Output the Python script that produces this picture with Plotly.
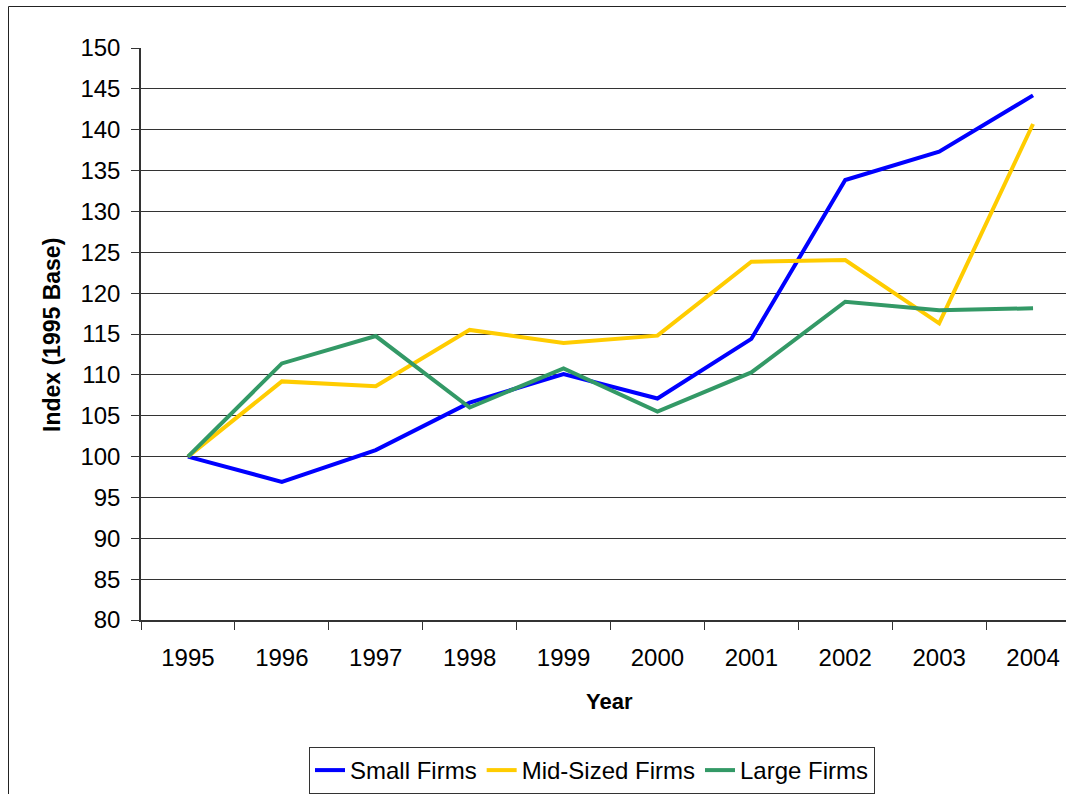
import plotly.graph_objects as go

# Index values (1995 = 100) by firm size
years = ["1995", "1996", "1997", "1998", "1999", "2000", "2001", "2002", "2003", "2004"]
small_firms = [100, 96.9, 100.8, 106.6, 110.1, 107.1, 114.4, 133.85, 137.3, 144.2]
mid_sized_firms = [100, 109.2, 108.6, 115.5, 113.9, 114.8, 123.85, 124.05, 116.3, 140.7]
large_firms = [100, 111.4, 114.75, 106.0, 110.8, 105.5, 110.3, 118.95, 117.9, 118.15]

series = [
    ("Small Firms", small_firms, "#0000FF"),
    ("Mid-Sized Firms", mid_sized_firms, "#FFCC00"),
    ("Large Firms", large_firms, "#339966"),
]

FONT = "Liberation Sans, Arial, sans-serif"

fig = go.Figure()
for name, values, color in series:
    fig.add_trace(go.Scatter(
        x=years, y=values, name=name, mode="lines",
        line=dict(color=color, width=4),
    ))

W, H = 1066, 794
L, R, T, B = 141, 0, 48, 174
pw, ph = W - L - R, H - T - B

def px_x(px):
    return (px - L) / pw

def px_y(py):
    return (H - B - py) / ph

fig.update_layout(
    width=W, height=H,
    margin=dict(l=L, r=R, t=T, b=B, pad=0),
    paper_bgcolor="white", plot_bgcolor="white",
    font=dict(family=FONT, color="black"),
    showlegend=True,
    legend=dict(
        orientation="h", x=px_x(592), xanchor="center",
        y=px_y(747), yanchor="top",
        bordercolor="#333333", borderwidth=1,
        font=dict(size=24, family=FONT),
        itemwidth=30, tracegroupgap=0,
    ),
    xaxis=dict(
        type="category", range=[-0.5, 9.351],
        tickson="boundaries", ticks="outside", ticklen=8, tickwidth=1,
        tickcolor="#333333", showgrid=False,
        showline=True, linecolor="#333333", linewidth=1.5,
        tickfont=dict(size=24, family=FONT),
        ticklabelstandoff=15,
    ),
    yaxis=dict(
        range=[80, 150], dtick=5, tick0=80,
        ticks="outside", ticklen=8, tickwidth=1, tickcolor="#333333",
        showgrid=True, gridcolor="#333333", gridwidth=1,
        showline=True, linecolor="#333333", linewidth=1.5,
        tickfont=dict(size=24, family=FONT),
        ticklabelstandoff=6, zeroline=False,
    ),
    annotations=[
        dict(text="<b>Index (1995 Base)</b>", xref="paper", yref="paper",
             x=px_x(52), y=px_y(335), xanchor="center", yanchor="middle",
             textangle=-90, showarrow=False,
             font=dict(size=23, family=FONT)),
        dict(text="<b>Year</b>", xref="paper", yref="paper",
             x=px_x(609), y=px_y(701), xanchor="center", yanchor="middle",
             showarrow=False,
             font=dict(size=22, family=FONT)),
    ],
    shapes=[
        dict(type="rect", xref="paper", yref="paper",
             x0=px_x(8.5), y0=-1, x1=2, y1=px_y(6.5),
             line=dict(color="#222222", width=1), layer="below"),
    ],
)

fig.write_html("out.html")
